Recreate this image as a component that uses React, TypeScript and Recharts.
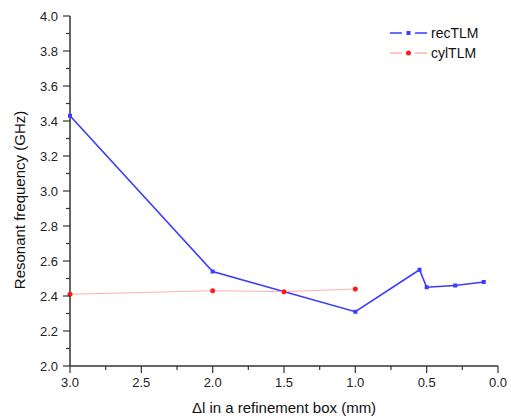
import * as React from 'react';
import { LineChart, Line, XAxis, YAxis } from 'recharts';

// refinement step (mm) vs resonant frequency (GHz)
const recSpacing = [3.0, 2.0, 1.0, 0.55, 0.5, 0.3, 0.1];
const recFreq = [3.43, 2.54, 2.31, 2.55, 2.45, 2.46, 2.48];
const cylSpacing = [3.0, 2.0, 1.5, 1.0];
const cylFreq = [2.41, 2.43, 2.425, 2.44];

const xTicks = [0, 0.25, 0.5, 0.75, 1.0, 1.25, 1.5, 1.75, 2.0, 2.25, 2.5, 2.75, 3.0];
const yTicks = [2.0, 2.1, 2.2, 2.3, 2.4, 2.5, 2.6, 2.7, 2.8, 2.9, 3.0, 3.1, 3.2, 3.3, 3.4, 3.5, 3.6, 3.7, 3.8, 3.9, 4.0];

const recData = recSpacing.map((x, i) => ({ x, y: recFreq[i] }));
const cylData = cylSpacing.map((x, i) => ({ x, y: cylFreq[i] }));

const BLUE = '#3b3bff';
const RED = '#ff1a1a';
const PINK = '#ffb0b0';
const AXIS = '#333';
const FONT = '"Liberation Sans", Arial, sans-serif';

const isMajor = (v: number, step: number) => Math.abs(v / step - Math.round(v / step)) < 1e-6;

const XTick = (props: any) => {
  const { x, y, payload } = props;
  const major = isMajor(payload.value, 0.5);
  return (
    <g>
      <line x1={x} x2={x} y1={y} y2={y + (major ? 7 : 4)} stroke={AXIS} strokeWidth={1.2} />
      {major && (
        <text x={x} y={y + 21} textAnchor="middle" fontSize={13} fill="#222" fontFamily={FONT}>
          {payload.value.toFixed(1)}
        </text>
      )}
    </g>
  );
};

const YTick = (props: any) => {
  const { x, y, payload } = props;
  const major = isMajor(payload.value, 0.2);
  return (
    <g>
      <line x1={x - (major ? 7 : 4)} x2={x} y1={y} y2={y} stroke={AXIS} strokeWidth={1.2} />
      {major && (
        <text x={x - 12} y={y} dy="0.35em" textAnchor="end" fontSize={13} fill="#222" fontFamily={FONT}>
          {payload.value.toFixed(1)}
        </text>
      )}
    </g>
  );
};

const SquareDot = (props: any) => {
  const { cx, cy } = props;
  return <rect x={cx - 2} y={cy - 2} width={4} height={4} fill={BLUE} />;
};

const legendItems = [
  { name: 'recTLM', line: BLUE, dot: BLUE, square: true },
  { name: 'cylTLM', line: PINK, dot: RED, square: false },
];

const LegendBox = () => (
  <svg width={100} height={40} style={{ position: 'absolute', left: 388, top: 26 }}>
    {legendItems.map((it, i) => {
      const cy = 7 + i * 20;
      return (
        <g key={it.name}>
          <line x1={2} x2={14} y1={cy} y2={cy} stroke={it.line} strokeWidth={1.5} />
          <line x1={27} x2={39} y1={cy} y2={cy} stroke={it.line} strokeWidth={1.5} />
          {it.square ? (
            <rect x={18.5} y={cy - 2} width={4} height={4} fill={it.dot} />
          ) : (
            <circle cx={20.5} cy={cy} r={2.5} fill={it.dot} />
          )}
          <text x={43} y={cy} dy="0.35em" fontSize={14} fill="#111" fontFamily={FONT}>
            {it.name}
          </text>
        </g>
      );
    })}
  </svg>
);

export default function App() {
  return (
    <div style={{ position: 'absolute', left: 0, top: 0, width: 511, height: 416, background: '#fff' }}>
      <LineChart width={511} height={416} margin={{ top: 16, right: 13, bottom: 0, left: 0 }}>
        <XAxis
          type="number"
          dataKey="x"
          domain={[0, 3]}
          reversed
          ticks={xTicks}
          interval={0}
          height={50}
          tickSize={0}
          tickMargin={0}
          tick={<XTick />}
          axisLine={{ stroke: AXIS, strokeWidth: 1.5 }}
          label={{
            content: ({ viewBox }: any) => (
              <text
                x={viewBox.x + viewBox.width / 2}
                y={viewBox.y + 47}
                textAnchor="middle"
                fontSize={15}
                fill="#111"
                fontFamily={FONT}
              >
                Δl in a refinement box (mm)
              </text>
            ),
          }}
        />
        <YAxis
          type="number"
          dataKey="y"
          domain={[2, 4]}
          ticks={yTicks}
          interval={0}
          width={70}
          tickSize={0}
          tickMargin={0}
          tick={<YTick />}
          axisLine={{ stroke: AXIS, strokeWidth: 1.5 }}
          label={{
            content: ({ viewBox }: any) => {
              const cx = viewBox.x + 20;
              const cy = viewBox.y + viewBox.height / 2 + 9;
              return (
                <text
                  x={cx}
                  y={cy}
                  dy="0.35em"
                  textAnchor="middle"
                  fontSize={15}
                  fill="#111"
                  fontFamily={FONT}
                  transform={`rotate(-90 ${cx} ${cy})`}
                >
                  Resonant frequency (GHz)
                </text>
              );
            },
          }}
        />
        <Line
          data={recData}
          dataKey="y"
          name="recTLM"
          stroke={BLUE}
          strokeWidth={1.6}
          dot={<SquareDot />}
          activeDot={false}
          isAnimationActive={false}
        />
        <Line
          data={cylData}
          dataKey="y"
          name="cylTLM"
          stroke={PINK}
          strokeWidth={1}
          dot={{ r: 2.5, fill: RED, stroke: 'none' }}
          activeDot={false}
          isAnimationActive={false}
        />
      </LineChart>
      <LegendBox />
    </div>
  );
}
